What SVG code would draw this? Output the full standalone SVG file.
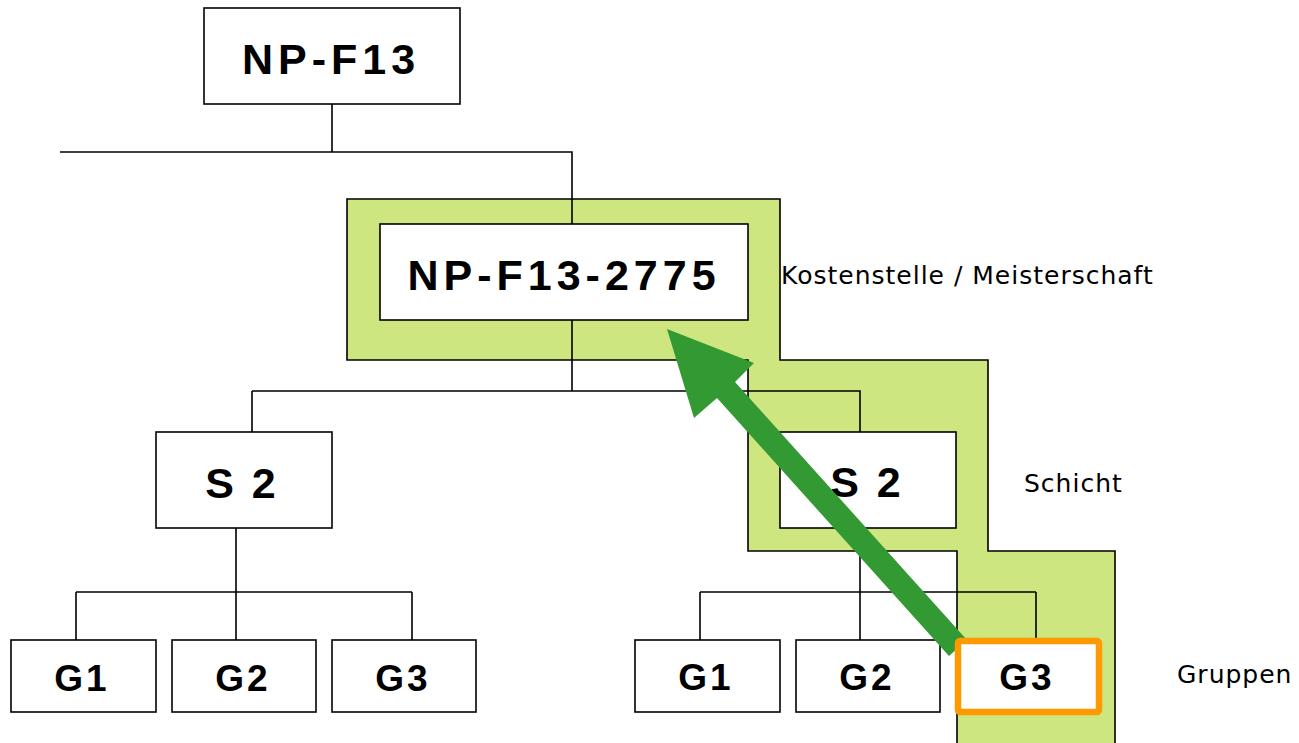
<svg xmlns="http://www.w3.org/2000/svg" width="1299" height="743" viewBox="0 0 1299 743">
<style>
.box{fill:#fff;stroke:#000;stroke-width:1.6}
.ln{fill:none;stroke:#000;stroke-width:1.6}
.b{font-family:"Liberation Sans",Arial,sans-serif;font-weight:bold;fill:#000;text-anchor:middle}
.big{font-size:43px;letter-spacing:5px}
.s{font-size:43px;letter-spacing:3px}
.g{font-size:37px;letter-spacing:3px}
.lab{font-family:"DejaVu Sans",Verdana,sans-serif;font-size:25px;letter-spacing:1px;fill:#000}
</style>
<rect width="1299" height="743" fill="#fff"/>
<g id="highlight">
<path d="M347,199 H780 V360 H988 V551 H1115 V745 H957 V551 H748 V360 H347 Z" fill="#cde680" stroke="#000" stroke-width="1.6"/>
</g>
<g id="connectors" class="ln">
<path d="M332,104 V152 M60,152 H572 V224"/>
<path d="M572,320 V391 M252,391 H860 V432 M252,391 V432"/>
<path d="M236,528 V592 M76,592 H412 M76,592 V640 M236,592 V640 M412,592 V640"/>
<path d="M860,528 V592 M700,592 H1036 M700,592 V640 M860,592 V640 M1036,592 V640"/>
</g>
<g id="n-npf13"><rect class="box" x="204" y="8" width="256" height="96"/><text class="b big" x="331" y="74">NP-F13</text></g>
<g id="n-npf13-2775"><rect class="box" x="380" y="224" width="368" height="96"/><text class="b big" x="564" y="290">NP-F13-2775</text></g>
<g id="n-s2-left"><rect class="box" x="156" y="432" width="176" height="96"/><text class="b s" x="242" y="498">S 2</text></g>
<g id="n-s2-right"><rect class="box" x="780" y="432" width="176" height="96"/><text class="b s" x="867" y="497">S 2</text></g>
<g id="n-g1-left"><rect class="box" x="11" y="640" width="145" height="72"/><text class="b g" x="82" y="691">G1</text></g>
<g id="n-g2-left"><rect class="box" x="172" y="640" width="144" height="72"/><text class="b g" x="243" y="691">G2</text></g>
<g id="n-g3-left"><rect class="box" x="332" y="640" width="144" height="72"/><text class="b g" x="403" y="691">G3</text></g>
<g id="n-g1-right"><rect class="box" x="635" y="640" width="145" height="72"/><text class="b g" x="706" y="690">G1</text></g>
<g id="n-g2-right"><rect class="box" x="796" y="640" width="144" height="72"/><text class="b g" x="867" y="690">G2</text></g>
<g id="arrow">
<polygon points="667,329 754,363 735,382 967,640 949,656 717,398 694,418" fill="#339933"/>
</g>
<g id="n-g3-right"><rect x="958" y="641" width="141" height="71" rx="2" fill="#fff" stroke="#ff9900" stroke-width="6.5"/><text class="b g" x="1027" y="690">G3</text></g>
<g id="labels">
<text class="lab" x="781" y="284">Kostenstelle / Meisterschaft</text>
<text class="lab" x="1024" y="492">Schicht</text>
<text class="lab" x="1177" y="683">Gruppen</text>
</g>
</svg>
